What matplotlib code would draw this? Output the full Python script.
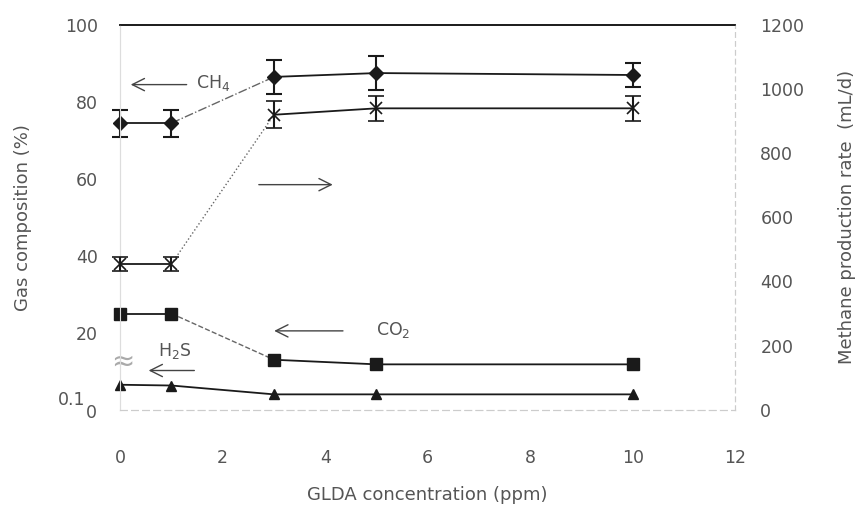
import numpy as np
import matplotlib
matplotlib.use("Agg")
import matplotlib.pyplot as plt

# ---------------------------
# data
# ---------------------------
glda = [0, 1, 3, 5, 10]

ch4 = [74.5, 74.5, 86.5, 87.5, 87.0]       # % (left axis)
ch4_err = [3.5, 3.5, 4.5, 4.5, 3.0]
co2 = [25.0, 25.0, 13.0, 11.8, 11.8]       # %
h2s = [6.5, 6.3, 4.0, 4.0, 4.0]            # %
rate = [455, 455, 920, 940, 940]           # mL/d (right axis)
rate_err = [22, 22, 42, 40, 40]

xticks = [0, 2, 4, 6, 8, 10, 12]
yticks_left = [20, 40, 60, 80, 100]
yticks_right = [0, 200, 400, 600, 800, 1000, 1200]

ink = "#1a1a1a"
txt = "#555555"
fs = 12.5
plt.rcParams["font.family"] = ["DejaVu Sans"]

fig = plt.figure(figsize=(8.65, 5.2), dpi=100)
ax = fig.add_axes([0.139, 0.212, 0.711, 0.74])
ax2 = ax.twinx()


def seg_plot(a, x, y, mid_style):
    # solid first and last segments, different style between x=1 and x=3
    a.plot(x[:2], y[:2], "-", color=ink, lw=1.3, zorder=3)
    a.plot(x[1:3], y[1:3], mid_style, color="#666666", lw=1.0, zorder=3)
    a.plot(x[2:], y[2:], "-", color=ink, lw=1.3, zorder=3)


# CH4 %
seg_plot(ax, glda, ch4, "-.")
ax.errorbar(glda, ch4, yerr=ch4_err, fmt="D", ms=7, color=ink, ecolor=ink,
            elinewidth=1.5, capsize=6, capthick=1.5, zorder=4, clip_on=False)
# CO2 %
seg_plot(ax, glda, co2, "--")
ax.plot(glda, co2, "s", ms=8, color=ink, zorder=4, clip_on=False)
# H2S %
ax.plot(glda, h2s, "-", color=ink, lw=1.3, zorder=3)
ax.plot(glda, h2s, "^", ms=7, color=ink, zorder=4, clip_on=False)

# methane production rate
seg_plot(ax2, glda, rate, ":")
ax2.errorbar(glda, rate, yerr=rate_err, fmt="x", ms=9, mew=1.2, color=ink,
             ecolor=ink, elinewidth=1.5, capsize=6, capthick=1.5, zorder=4,
             clip_on=False)

ax.set_xlim(0, 12)
ax.set_ylim(0, 100)
ax2.set_ylim(0, 1200)
ax.set_xticks(xticks)
ax.set_yticks(yticks_left)
ax2.set_yticks(yticks_right)

for a in (ax, ax2):
    a.tick_params(length=0, labelsize=fs, labelcolor=txt)
    a.spines["top"].set_color(ink)
    a.spines["top"].set_linewidth(1.2)
    a.spines["left"].set_color("#dddddd")
    a.spines["right"].set_color("#cccccc")
    a.spines["right"].set_linestyle((0, (4, 4)))
    a.spines["bottom"].set_color("#cccccc")
    a.spines["bottom"].set_linestyle((0, (6, 4)))
ax.tick_params(axis="x", pad=28)
ax.tick_params(axis="y", pad=16)
ax2.tick_params(axis="y", pad=18)

# broken-axis labels at the bottom left
ax.text(-0.45, -0.8, "0", ha="right", va="center", fontsize=fs, color=txt)
ax.text(-0.68, 2.6, "0.1", ha="right", va="center", fontsize=fs, color=txt)
ax.text(0.05, 12.5, "≈", ha="center", va="center", fontsize=20, color="#aaaaaa")

ax.set_xlabel("GLDA concentration (ppm)", fontsize=fs + 0.5, color=txt,
              labelpad=14)
ax.set_ylabel("Gas composition (%)", fontsize=fs + 0.5, color=txt, labelpad=24)
ax2.set_ylabel("Methane production rate  (mL/d)", fontsize=fs + 0.5,
               color=txt, labelpad=24)

# arrows and species labels
arrow = dict(arrowstyle="->", color="#444444", lw=1.0, mutation_scale=22)
ax.annotate("", xy=(0.15, 84.5), xytext=(1.35, 84.5), arrowprops=arrow)
ax.text(1.48, 84.8, "CH$_4$", fontsize=fs, color=txt, va="center")
ax.annotate("", xy=(4.2, 58.5), xytext=(2.65, 58.5), arrowprops=arrow)
ax.annotate("", xy=(2.95, 20.5), xytext=(4.4, 20.5), arrowprops=arrow)
ax.text(5.0, 20.7, "CO$_2$", fontsize=fs, color=txt, va="center")
ax.annotate("", xy=(0.5, 10.2), xytext=(1.5, 10.2), arrowprops=arrow)
ax.text(0.73, 15.3, "H$_2$S", fontsize=fs, color=txt, va="center")

fig.savefig("out.png", dpi=100)
